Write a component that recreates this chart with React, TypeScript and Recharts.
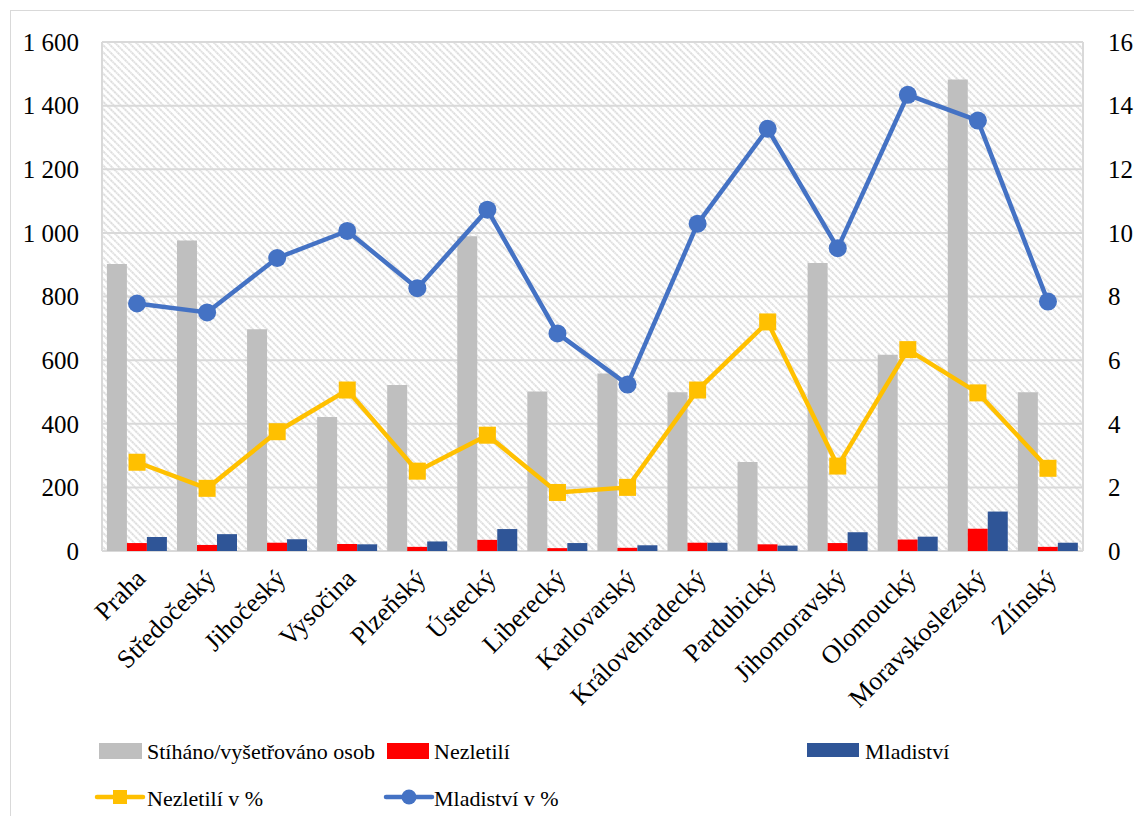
import React from 'react';
import {
  ComposedChart, Bar, Line, XAxis, YAxis, CartesianGrid, Legend,
} from 'recharts';

const categories = ['Praha', 'Středočeský', 'Jihočeský', 'Vysočina', 'Plzeňský', 'Ústecký', 'Liberecký', 'Karlovarský', 'Královehradecký', 'Pardubický', 'Jihomoravský', 'Olomoucký', 'Moravskoslezský', 'Zlínský'];
const stihano = [902, 976, 697, 421, 522, 989, 501, 558, 499, 280, 905, 617, 1482, 499];
const nezletili = [25, 19, 26, 22, 13, 35, 9, 10, 26, 21, 25, 36, 70, 13];
const mladistvi = [44, 53, 37, 21, 30, 69, 25, 18, 26, 17, 59, 45, 124, 26];
const nezletiliPct = [2.79, 1.97, 3.75, 5.06, 2.51, 3.64, 1.84, 2.0, 5.06, 7.2, 2.67, 6.33, 4.97, 2.6];
const mladistviPct = [7.78, 7.5, 9.21, 10.06, 8.26, 10.73, 6.84, 5.23, 10.29, 13.27, 9.52, 14.34, 13.53, 7.84];

const leftTicks = [0, 200, 400, 600, 800, 1000, 1200, 1400, 1600];
const rightTicks = [0, 2, 4, 6, 8, 10, 12, 14, 16];
const edgeTicks = categories.map((_, i) => i).concat([categories.length]);

const seriesNames = {
  stihano: 'Stíháno/vyšetřováno osob',
  nezletili: 'Nezletilí',
  mladistvi: 'Mladiství',
  nezletiliPct: 'Nezletilí v %',
  mladistviPct: 'Mladiství v %',
};

const data = categories.map((name, i) => ({
  name,
  pos: i + 0.5,
  stihano: stihano[i],
  nezletili: nezletili[i],
  mladistvi: mladistvi[i],
  nezletiliPct: nezletiliPct[i],
  mladistviPct: mladistviPct[i],
}));

const FONT = "'Liberation Serif', 'Times New Roman', serif";
const GRID = '#d9d9d9';
const W = 1123;
const H = 805;

const fmtThousands = (v: number) => {
  const s = String(v);
  return s.length > 3 ? s.slice(0, s.length - 3) + ' ' + s.slice(-3) : s;
};

const XTick = (props: any) => {
  const { x, y, payload } = props;
  const bx = x + 10;
  const by = y + 29;
  return (
    <text x={bx} y={by} textAnchor="end" style={{ fontFamily: FONT, fontSize: 26 }} fill="#000"
      transform={`rotate(-45 ${bx} ${by})`}>
      {payload.value}
    </text>
  );
};

const YTick = (props: any) => {
  const { x, y, payload, anchor } = props;
  return (
    <text x={x} y={y} dy="0.35em" textAnchor={anchor} style={{ fontFamily: FONT, fontSize: 25 }} fill="#000">
      {fmtThousands(payload.value)}
    </text>
  );
};

const SquareDot = (props: any) => {
  const { cx, cy, index } = props;
  if (cx == null || cy == null) return <g key={`sq-${index}`} />;
  return <rect key={`sq-${index}`} x={cx - 8.5} y={cy - 8.5} width={17} height={17} fill="#ffc000" />;
};

const txt = { fontFamily: FONT, fontSize: 22 };

const renderLegend = () => (
  <svg width={W} height={80} style={{ display: 'block' }}>
    <g fill="#000">
      <rect x={88} y={7} width={43} height={16} fill="#bfbfbf" />
      <text x={136} y={23} style={txt}>{seriesNames.stihano}</text>
      <rect x={376} y={7} width={42} height={16} fill="#ff0000" />
      <text x={423} y={23} style={txt}>{seriesNames.nezletili}</text>
      <rect x={796} y={7} width={52} height={14} fill="#2f5597" />
      <text x={854} y={23} style={txt}>{seriesNames.mladistvi}</text>

      <line x1={86} y1={61} x2={132} y2={61} stroke="#ffc000" strokeWidth={4.5} strokeLinecap="round" />
      <rect x={102} y={54} width={14} height={14} fill="#ffc000" />
      <text x={136} y={70} style={txt}>{seriesNames.nezletiliPct}</text>
      <line x1={375} y1={61} x2={421} y2={61} stroke="#4472c4" strokeWidth={4.5} strokeLinecap="round" />
      <circle cx={398} cy={61} r={7.5} fill="#4472c4" />
      <text x={423} y={70} style={txt}>{seriesNames.mladistviPct}</text>
    </g>
  </svg>
);

export default function App() {
  return (
    <div style={{ position: 'absolute', left: 10, top: 10, width: 1140, height: 820, border: `1px solid ${GRID}`, background: '#fff', fontFamily: FONT }}>
      <ComposedChart
        width={W}
        height={H}
        data={data}
        margin={{ top: 31, right: 0, bottom: 0, left: 0 }}
        barCategoryGap="7%"
        barGap={0}
        style={{ fontFamily: FONT }}
      >
        <defs>
          <pattern id="hatch" patternUnits="userSpaceOnUse" width={5} height={5} patternTransform="rotate(-45)">
            <rect width={5} height={5} fill="#ffffff" />
            <line x1={1} y1={0} x2={1} y2={5} stroke="#d6d6d6" strokeWidth={1.6} strokeDasharray="2 0.6" />
          </pattern>
        </defs>
        <XAxis
          xAxisId="edges"
          type="number"
          dataKey="pos"
          domain={[0, categories.length]}
          ticks={edgeTicks}
          tick={false}
          tickSize={7}
          tickLine={{ stroke: GRID, strokeWidth: 2 }}
          axisLine={false}
          height={1}
          allowDataOverflow
        />
        <XAxis
          xAxisId="cat"
          dataKey="name"
          type="category"
          interval={0}
          tickLine={false}
          axisLine={false}
          tickSize={0}
          tickMargin={0}
          tick={<XTick />}
          height={184}
        />
        <YAxis
          yAxisId="left"
          orientation="left"
          domain={[0, 1600]}
          ticks={leftTicks}
          axisLine={false}
          tickLine={false}
          tickSize={6}
          tickMargin={17}
          width={91}
          tick={<YTick anchor="end" />}
        />
        <YAxis
          yAxisId="right"
          orientation="right"
          domain={[0, 16]}
          ticks={rightTicks}
          axisLine={false}
          tickLine={false}
          tickSize={6}
          tickMargin={19}
          width={51}
          tick={<YTick anchor="start" />}
        />
        <CartesianGrid
          xAxisId="edges"
          yAxisId="left"
          stroke={GRID}
          strokeWidth={2}
          fill="url(#hatch)"
          fillOpacity={1}
        />
        <Legend verticalAlign="bottom" content={renderLegend} wrapperStyle={{ left: 0, width: W, height: 80 }} />
        <Bar xAxisId="cat" yAxisId="left" dataKey="stihano" name={seriesNames.stihano} fill="#bfbfbf" isAnimationActive={false} />
        <Bar xAxisId="cat" yAxisId="left" dataKey="nezletili" name={seriesNames.nezletili} fill="#ff0000" isAnimationActive={false} />
        <Bar xAxisId="cat" yAxisId="left" dataKey="mladistvi" name={seriesNames.mladistvi} fill="#2f5597" isAnimationActive={false} />
        <Line xAxisId="cat" yAxisId="right" dataKey="nezletiliPct" name={seriesNames.nezletiliPct} stroke="#ffc000" strokeWidth={4.5}
          dot={SquareDot} activeDot={false} isAnimationActive={false} />
        <Line xAxisId="cat" yAxisId="right" dataKey="mladistviPct" name={seriesNames.mladistviPct} stroke="#4472c4" strokeWidth={4.5}
          dot={{ r: 9, fill: '#4472c4', stroke: '#4472c4', strokeWidth: 0 }} activeDot={false} isAnimationActive={false} />
      </ComposedChart>
    </div>
  );
}
